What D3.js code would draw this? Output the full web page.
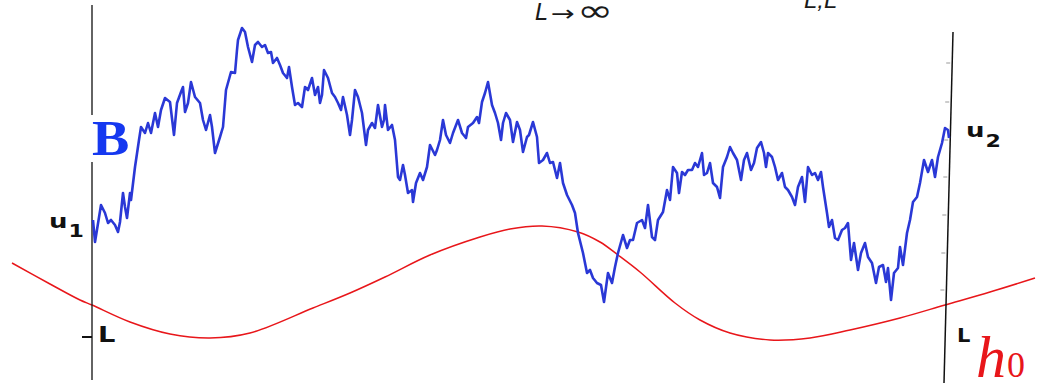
<!DOCTYPE html>
<html>
<head>
<meta charset="utf-8">
<script src="https://cdn.jsdelivr.net/npm/d3@7"></script>
<style>
  html, body { margin: 0; padding: 0; background: #fff; }
  svg { display: block; }
</style>
</head>
<body>
<script>
// Sample path B(t): t along the interval [-L, L], value = height above the lower level
const pathT = [1,3,9,13,16,19,23,26,28,31,33,35,38,39,43,47,49,53,56,59,63,66,69,73,78,82,85,89,91,93,96,99,103,108,111,114,118,120,123,128,131,134,139,143,145,
  146,150,153,156,160,163,166,170,173,176,179,181,185,188,191,195,197,200,203,206,210,213,216,220,223,226,228,230,232,236,240,243,246,249,251,255,258,260,263,266,270,274,276,280,283,286,290,292,
  293,296,300,303,306,308,311,313,316,320,321,324,328,331,335,338,343,345,348,351,354,358,361,366,370,374,376,381,385,387,390,393,396,400,403,406,409,411,414,418,421,425,428,431,435,437,
  441,445,447,451,455,458,461,465,468,471,475,480,483,486,491,495,498,501,505,509,512,516,520,523,526,531,535,538,541,545,550,553,556,560,563,566,571,575,578,
  581,585,587,590,593,596,600,603,606,610,612,615,618,621,625,628,631,635,638,641,645,649,652,655,659,662,665,669,672,674,676,680,683,686,690,693,696,700,703,706,710,713,716,720,
  723,726,729,731,735,737,740,743,746,750,753,756,759,762,766,769,773,776,780,784,787,791,794,796,799,802,806,808,811,815,818,821,825,828,832,836,840,843,846,850,853,856,857];
const pathB = [120,98,135,127,117,120,115,108,118,147,133,122,147,140,173,200,213,207,217,207,227,213,230,242,238,205,237,248,253,228,237,258,243,237,220,210,225,213,187,203,213,250,268,267,290,
  300,312,308,293,278,295,298,293,295,287,288,277,282,275,267,262,273,253,235,237,233,253,250,262,245,253,237,245,270,262,247,243,237,230,243,225,205,220,250,243,227,195,210,217,212,235,213,220,
  235,210,215,200,163,160,175,165,147,150,138,157,167,160,173,195,185,190,200,220,205,197,207,220,207,202,213,217,223,217,238,247,258,235,227,217,200,217,227,220,198,218,210,188,203,205,
  218,203,177,180,187,177,178,162,177,157,145,135,127,107,87,67,70,62,57,55,38,67,57,73,87,105,92,100,100,117,120,112,135,103,100,120,128,150,140,
  173,167,147,168,165,170,170,177,173,187,165,167,177,157,153,142,173,183,193,187,180,160,180,187,170,177,192,198,187,173,187,183,173,160,167,153,150,143,135,153,163,138,173,165,
  167,160,168,153,127,113,120,102,100,110,112,117,80,97,70,87,97,83,77,57,73,75,58,72,40,67,72,93,75,107,120,138,143,157,180,168,180,163,183,197,212,210,202];

// Initial profile h0 across the full width
const h0T = [-80,-42,-12,0,38,78,118,158,221,258,293,338,388,418,450,486,508,526,548,583,608,638,678,718,758,808,853,898,943];
const h0V = [77,56,40,35,18,6,2,7,32,47,63,85,103,111,114,108,98,85,68,37,20,7,0,2,10,22,35,48,62];

// Tick values on the right-hand axis and the lower level marked on the left axis
const rightTicks = [277,238,200,163,125,87,50];
const lowerLevel = 3;

// Text labels
const labelB = "B";
const labelU = "u";
const subU1 = "1";
const subU2 = "2";
const labelL = "L";
const labelH = "h";
const subH = "0";
const limitText = ["L", "→", "∞"];
const topRightText = "L,L";

const W = 1038, H = 383;
const svg = d3.select("body").append("svg").attr("width", W).attr("height", H);

const defs = svg.append("defs");
defs.append("filter").attr("id", "soft")
  .append("feGaussianBlur").attr("stdDeviation", 0.45);

const x = d3.scaleLinear().domain([0, 856]).range([92, 948]);
const y = d3.scaleLinear().domain([0, 340]).range([340, 0]);

// Profile h0
svg.append("path")
  .datum(d3.zip(h0T, h0V))
  .attr("fill", "none")
  .attr("stroke", "#e8161a")
  .attr("stroke-width", 1.5)
  .attr("d", d3.line().x(d => x(d[0])).y(d => y(d[1])).curve(d3.curveCatmullRom.alpha(0.5)));

// Left axis
svg.append("line")
  .attr("x1", x(0)).attr("x2", x(0))
  .attr("y1", 5).attr("y2", 380)
  .attr("stroke", "#222").attr("stroke-width", 1.4);
svg.append("line")
  .attr("x1", x(0) - 10).attr("x2", x(0))
  .attr("y1", y(lowerLevel)).attr("y2", y(lowerLevel))
  .attr("stroke", "#111").attr("stroke-width", 2);

// Right axis (slightly tilted)
svg.append("line")
  .attr("x1", 953).attr("y1", 32)
  .attr("x2", 944).attr("y2", 383)
  .attr("stroke", "#111").attr("stroke-width", 1.5);
const rightAxisX = v => 953 - (y(v) - 32) * 9 / 351;
svg.selectAll("line.rtick").data(rightTicks).enter().append("line")
  .attr("class", "rtick")
  .attr("x1", d => rightAxisX(d) - 6).attr("x2", d => rightAxisX(d) - 2)
  .attr("y1", d => y(d)).attr("y2", d => y(d))
  .attr("stroke", "#999").attr("stroke-width", 1);

// Sample path
svg.append("path")
  .datum(d3.zip(pathT, pathB))
  .attr("fill", "none")
  .attr("stroke", "#2a39d6")
  .attr("stroke-width", 2.6)
  .attr("stroke-linejoin", "round")
  .attr("filter", "url(#soft)")
  .attr("d", d3.line().x(d => x(d[0])).y(d => y(d[1])));

// Label B with a white backing over the axis
svg.append("rect").attr("x", 88).attr("y", 115).attr("width", 44).attr("height", 47).attr("fill", "#fff");
svg.append("text")
  .attr("transform", "translate(92,155) scale(1.12,1)")
  .attr("font-family", "Liberation Serif, serif")
  .attr("font-weight", "bold")
  .attr("font-size", 50)
  .attr("fill", "#1538f0")
  .text(labelB);

// Endpoint labels
function subLabel(xp, yp, main, sub, dy) {
  const g = svg.append("g").attr("transform", `translate(${xp},${yp}) scale(1.3,1)`)
    .attr("font-family", "DejaVu Sans, sans-serif").attr("font-weight", "bold").attr("fill", "#111");
  g.append("text").attr("font-size", 20).text(main);
  g.append("text").attr("x", 15).attr("y", dy).attr("font-size", 17).text(sub);
}
subLabel(49, 228, labelU, subU1, 9);
subLabel(966, 137, labelU, subU2, 10);

svg.append("text")
  .attr("transform", "translate(98,342) scale(1.3,1)")
  .attr("font-family", "DejaVu Sans, sans-serif").attr("font-weight", "bold")
  .attr("font-size", 21).attr("fill", "#111").text(labelL);
svg.append("text")
  .attr("transform", "translate(957,342) scale(1.05,1)")
  .attr("font-family", "DejaVu Sans, sans-serif").attr("font-weight", "bold")
  .attr("font-size", 20).attr("fill", "#111").text(labelL);

// h0 label
svg.append("text")
  .attr("x", 976).attr("y", 377)
  .attr("font-family", "Liberation Serif, serif").attr("font-style", "italic")
  .attr("font-size", 60).attr("fill", "#e8161a").text(labelH);
svg.append("text")
  .attr("x", 1007).attr("y", 377)
  .attr("font-family", "Liberation Serif, serif")
  .attr("font-size", 36).attr("fill", "#e8161a").text(subH);

// Limit text at the top
const lim = svg.append("g").attr("fill", "#1a1a1a").attr("font-family", "DejaVu Sans, sans-serif");
lim.append("text").attr("x", 535).attr("y", 20).attr("font-size", 23).attr("font-style", "italic").text(limitText[0]);
lim.append("text").attr("transform", "translate(551,21) scale(1.3,1)").attr("font-size", 22).text(limitText[1]);
lim.append("text").attr("transform", "translate(577,21) scale(1.45,1)").attr("font-size", 30).text(limitText[2]);

svg.append("text")
  .attr("x", 804).attr("y", 8)
  .attr("font-family", "Liberation Sans, sans-serif").attr("font-style", "italic")
  .attr("font-size", 24).attr("fill", "#1a1a1a").text(topRightText);
</script>
</body>
</html>
